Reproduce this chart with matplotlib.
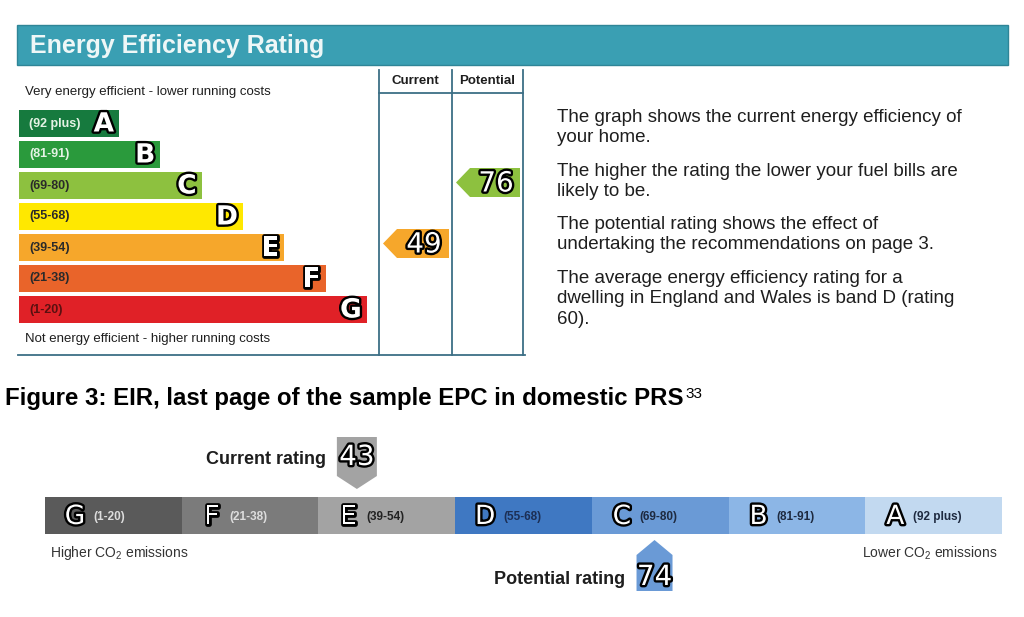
import matplotlib
matplotlib.use('Agg')
import matplotlib.pyplot as plt
from matplotlib.patches import Polygon, Rectangle
import matplotlib.patheffects as pe

plt.rcParams.update({'font.family': ['Liberation Sans', 'DejaVu Sans'],
                     'mathtext.fontset': 'custom', 'mathtext.rm': 'Liberation Sans',
                     'mathtext.bf': 'Liberation Sans:bold'})

# data
letters = ['A', 'B', 'C', 'D', 'E', 'F', 'G']
ranges = ['(92 plus)', '(81-91)', '(69-80)', '(55-68)', '(39-54)', '(21-38)', '(1-20)']
band_lo = [92, 81, 69, 55, 39, 21, 1]
band_hi = [100, 91, 80, 68, 54, 38, 20]
eer_colors = ['#167a3e', '#2a9a3c', '#8dc13f', '#ffe800', '#f6a72b', '#e9642a', '#e02127']
eer_label_col = ['#e4f2e4', '#e4f2e4', '#2a2a2a', '#2a2a2a', '#2a2a2a', '#2a2a2a', '#5a1010']
eer_current = 49
eer_potential = 76

eir_colors = ['#c2d9f0', '#8cb6e6', '#6a9ad6', '#3f78c2', '#a3a3a3', '#7b7b7b', '#5a5a5a']
eir_label_col = ['#1e2a40', '#1e2a40', '#1e2a40', '#1c2f55', '#222222', '#dddddd', '#dddddd']
eir_current = 43
eir_potential = 74

notes = ['The graph shows the current energy efficiency of\nyour home.',
         'The higher the rating the lower your fuel bills are\nlikely to be.',
         'The potential rating shows the effect of\nundertaking the recommendations on page 3.',
         'The average energy efficiency rating for a\ndwelling in England and Wales is band D (rating\n60).']

INK = '#1e1e1e'; TEAL = '#3a9fb3'; FRAME = '#3d6f86'
OUT = [pe.withStroke(linewidth=3.4, foreground='black')]


def band_of(v):
    return next(i for i in range(len(letters)) if band_lo[i] <= v <= band_hi[i])


fig = plt.figure(figsize=(10.24, 6.17), dpi=100)
ax = fig.add_axes([0, 0, 1, 1])
ax.set_xlim(0, 1024); ax.set_ylim(617, 0); ax.axis('off')

# header
ax.add_patch(Rectangle((17, 25), 991, 40, facecolor=TEAL, edgecolor='#2f8597', lw=1))
ax.text(30, 46, 'Energy Efficiency Rating', color='#eef7f7', fontsize=18, fontweight='bold', va='center')

# frame of EER table
ax.plot([18, 525], [355, 355], color=FRAME, lw=1.3)
for x in [379, 452, 523]:
    ax.plot([x, x], [70, 355], color=FRAME, lw=1.3)
ax.plot([379, 523], [93, 93], color=FRAME, lw=1.3)
ax.text(415.5, 81, 'Current', ha='center', va='center', fontsize=9.5, fontweight='bold', color=INK)
ax.text(487.5, 81, 'Potential', ha='center', va='center', fontsize=9.5, fontweight='bold', color=INK)
ax.text(25, 92, 'Very energy efficient - lower running costs', fontsize=9.5, va='center', color=INK)
ax.text(25, 339, 'Not energy efficient - higher running costs', fontsize=9.5, va='center', color=INK)

# EER bands
rows = [123.5 + 31 * i for i in range(len(letters))]
widths = [100 + 41.3 * i for i in range(len(letters))]
ax.barh(rows, widths, left=19, height=27, color=eer_colors)
for i, L in enumerate(letters):
    ax.text(29, rows[i], ranges[i], fontsize=9, fontweight='bold', color=eer_label_col[i], va='center')
    ax.text(19 + widths[i] - 5, rows[i] + 1, L, fontsize=19, fontweight='bold', color='white',
            ha='right', va='center', family='DejaVu Sans', path_effects=OUT)


def left_arrow(x0, x1, y, h, color, val):
    tip = 14
    ax.add_patch(Polygon([(x0, y), (x0 + tip, y - h / 2), (x1, y - h / 2), (x1, y + h / 2),
                          (x0 + tip, y + h / 2)], closed=True, facecolor=color, edgecolor='none'))
    ax.text((x0 + tip + x1) / 2 + 1, y + 1, str(val), fontsize=20, color='white', ha='center',
            va='center', family='DejaVu Sans', path_effects=OUT)


bc = band_of(eer_current); bp = band_of(eer_potential)
left_arrow(383, 449, rows[bc] - 4, 29, eer_colors[bc], eer_current)
left_arrow(456, 520, rows[bp] - 3, 29, eer_colors[bp], eer_potential)

# explanatory notes
for y, t in zip([116, 170, 223, 277], notes):
    ax.text(557, y - 7, t, fontsize=13.5, color=INK, va='top', linespacing=1.25)

# figure caption
cap = ax.text(5, 398, 'Figure 3: EIR, last page of the sample EPC in domestic PRS', fontsize=17.3,
              fontweight='bold', color='black', va='center')
ax.annotate('33', xy=(1, 1), xycoords=cap, xytext=(1, 0), textcoords='offset points',
            fontsize=11, va='top', ha='left', color='black')

# EIR bar (G..A from left to right)
order = list(range(len(letters)))[::-1]
seg_w = (1002 - 45) / len(letters)
lefts = [45 + seg_w * k for k in range(len(order))]
ax.barh([515.5] * len(order), [seg_w] * len(order), left=lefts, height=37,
        color=[eir_colors[i] for i in order])
for k, i in enumerate(order):
    ax.text(lefts[k] + 30, 517, letters[i], fontsize=19, color='white', ha='center', va='center',
            family='DejaVu Sans', path_effects=OUT)
    ax.text(lefts[k] + 48, 517, ranges[i], fontsize=8.5, fontweight='bold', color=eir_label_col[i],
            va='center')
ax.text(50, 553, 'Higher CO$_\\mathregular{2}$ emissions', fontsize=10, color='#333333', va='center')
ax.text(997, 553, 'Lower CO$_\\mathregular{2}$ emissions', fontsize=10, color='#333333', va='center', ha='right')


def eir_x(v):
    b = band_of(v)
    k = order.index(b)
    return lefts[k] + seg_w * (v - band_lo[b] + 0.5) / (band_hi[b] - band_lo[b] + 1)


# current marker (points down)
cx = eir_x(eir_current); cb = band_of(eir_current)
ax.add_patch(Polygon([(cx - 20, 437), (cx + 20, 437), (cx + 20, 476), (cx, 489), (cx - 20, 476)],
                     facecolor=eir_colors[cb], edgecolor='none'))
ax.text(cx, 457, str(eir_current), fontsize=20, color='white', ha='center', va='center',
        family='DejaVu Sans', path_effects=OUT)
ax.text(cx - 31, 460, 'Current rating', fontsize=13, fontweight='bold', color=INK, ha='right', va='center')

# potential marker (points up)
px = eir_x(eir_potential); pb = band_of(eir_potential)
ax.add_patch(Polygon([(px, 540), (px + 18, 555), (px + 18, 591), (px - 18, 591), (px - 18, 555)],
                     facecolor=eir_colors[pb], edgecolor='none'))
ax.text(px, 577, str(eir_potential), fontsize=20, color='white', ha='center', va='center',
        family='DejaVu Sans', path_effects=OUT)
ax.text(px - 29, 580, 'Potential rating', fontsize=13, fontweight='bold', color=INK, ha='right', va='center')

fig.savefig('out.png', dpi=100, facecolor='white')
